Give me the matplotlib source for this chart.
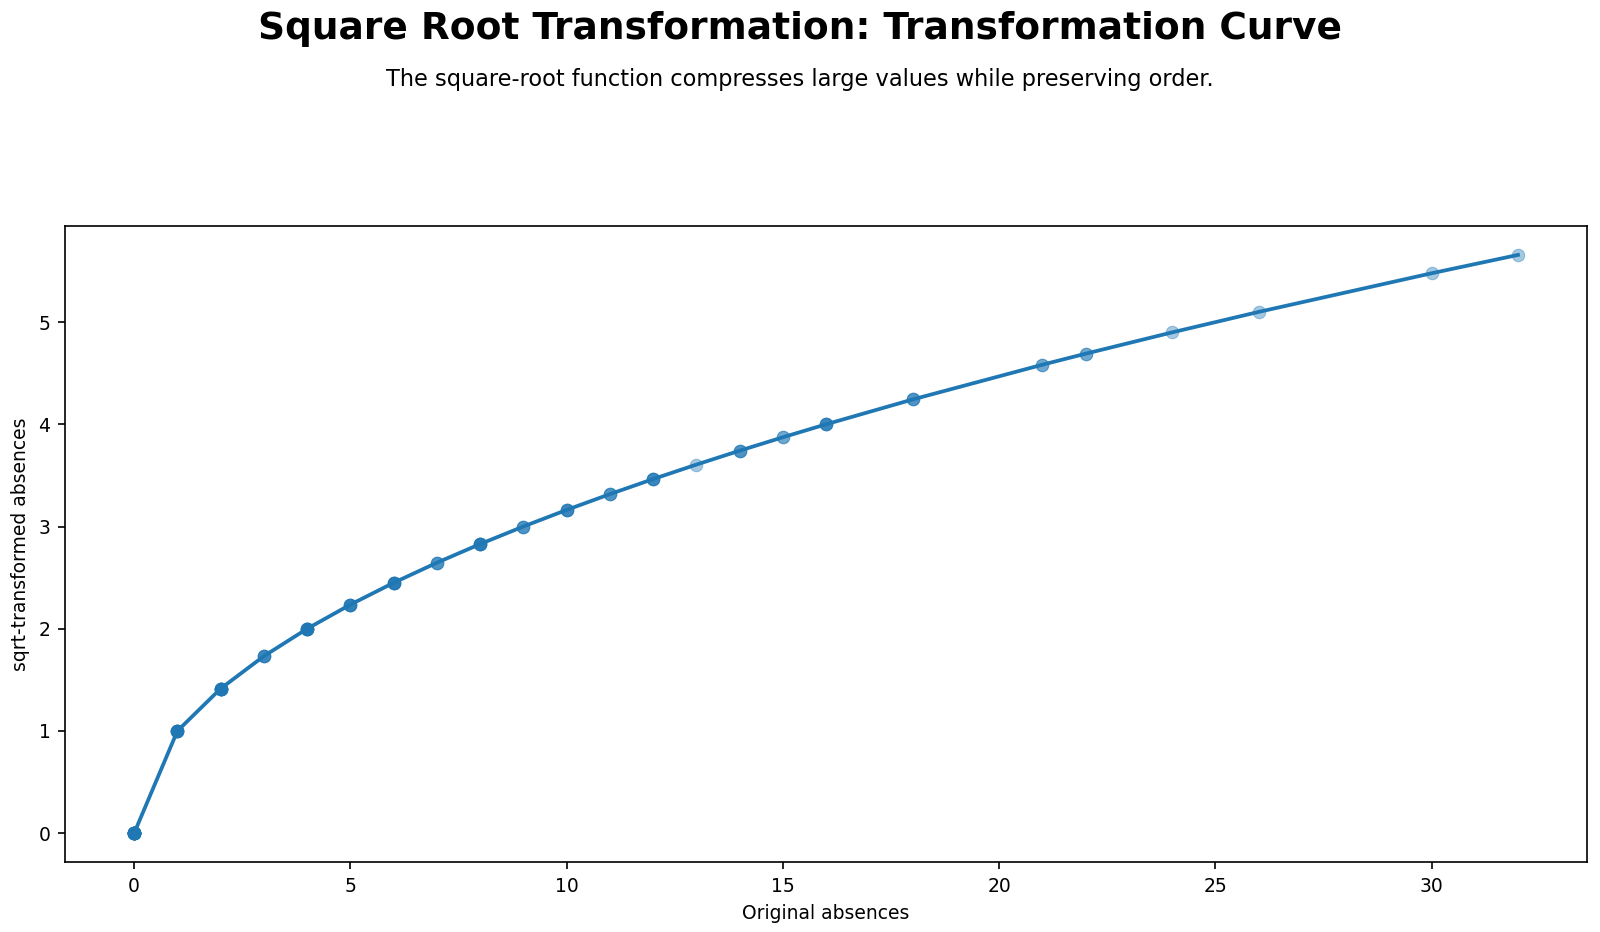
import numpy as np
import matplotlib.pyplot as plt

# observed absence values and how many students had each
absences = [0, 1, 2, 3, 4, 5, 6, 7, 8, 9, 10, 11, 12, 13, 14, 15, 16, 18, 21, 22, 24, 26, 30, 32]
counts = [20, 8, 10, 4, 8, 5, 6, 3, 6, 3, 4, 3, 4, 1, 3, 2, 4, 3, 2, 2, 1, 1, 1, 1]

x_all = np.repeat(absences, counts)
y_all = np.sqrt(x_all)

plt.rcParams['font.size'] = 9

fig = plt.figure(figsize=(16 / 1.5, 9.32 / 1.5), dpi=150)
ax = fig.add_axes([0.0406, 0.075, 0.9514, 0.6825])

ax.scatter(x_all, y_all, s=36, alpha=0.4, color='#1f77b4', edgecolors='#1f77b4', linewidths=0.5)
ax.plot(absences, np.sqrt(absences), color='#1f77b4', linewidth=1.8)

ax.set_xlabel("Original absences")
ax.set_ylabel("sqrt-transformed absences")

fig.text(0.5, 0.969, "Square Root Transformation: Transformation Curve", fontsize=18, fontweight='bold',
         ha='center', va='center')
fig.text(0.5, 0.915, "The square-root function compresses large values while preserving order.",
         ha='center', va='center', fontsize=10.8)

fig.savefig("out.png", dpi=150)
plt.close()
